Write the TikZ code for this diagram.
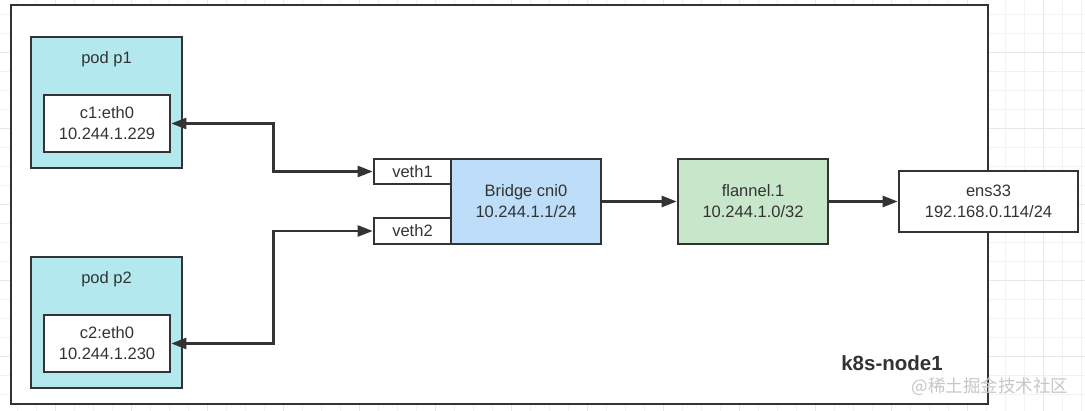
\documentclass[tikz,border=0pt]{standalone}
\usepackage{fontspec}
\setmainfont{Liberation Sans}
\newfontfamily\cjkfont{Noto Sans CJK SC}
\usetikzlibrary{arrows.meta}
\definecolor{podfill}{HTML}{B3E9EE}
\definecolor{brfill}{HTML}{BDDDF9}
\definecolor{flfill}{HTML}{C8E6CA}
\definecolor{edge}{HTML}{333333}
\tikzset{
  box/.style={draw=edge,line width=2.6pt,fill=white,inner sep=0pt,align=center,text=edge,
    font=\fontsize{16.5}{21}\selectfont},
  label text/.style={inner sep=0pt,text=edge,font=\fontsize{16.5}{21}\selectfont},
  link/.style={draw=edge,line width=2.4pt,-{Triangle[length=15pt,width=11pt]}},
  linkboth/.style={link,{Triangle[length=15pt,width=11pt]}-{Triangle[length=15pt,width=11pt]}},
  gridminor/.style={draw=black!5,line width=0.8pt},
  gridmajor/.style={draw=black!9,line width=0.8pt}
}
\begin{document}
\begin{tikzpicture}[x=1pt,y=-1pt]
\useasboundingbox (0,0) rectangle (1085,411);
% background grid
\foreach \gx in {17,36,...,1085} \draw[gridminor] (\gx,0) -- (\gx,411);
\foreach \gy in {14,33,...,411} \draw[gridminor] (0,\gy) -- (1085,\gy);
\foreach \gx in {55,131,...,1085} \draw[gridmajor] (\gx,0) -- (\gx,411);
\foreach \gy in {52,128,...,411} \draw[gridmajor] (0,\gy) -- (1085,\gy);
% host
\draw[draw=edge,line width=2pt,fill=white] (11,5) rectangle (988,404);
\node[text=edge,inner sep=0pt,font=\fontsize{20.5}{24}\selectfont\bfseries] (host) at (892,363) {k8s-node1};
\node[text=black!22,inner sep=0pt,font=\cjkfont\fontsize{17.5}{20}\selectfont] (mark) at (990,387) {@稀土掘金技术社区};
% pods
\node[box,fill=podfill,minimum width=151,minimum height=131] (p1) at (106.5,102.5) {};
\node[label text] (p1name) at (106.5,59) {pod p1};
\node[box,minimum width=126,minimum height=57] (c1) at (107,123.5) {c1:eth0\\10.244.1.229};
\node[box,fill=podfill,minimum width=151,minimum height=131] (p2) at (106.5,322.5) {};
\node[label text] (p2name) at (106.5,279) {pod p2};
\node[box,minimum width=126,minimum height=57] (c2) at (107,343.5) {c2:eth0\\10.244.1.230};
% bridge and veths
\node[box,fill=brfill,minimum width=150,minimum height=85] (cni0) at (526,201.5) {Bridge cni0\\10.244.1.1/24};
\node[box,minimum width=77,minimum height=25] (veth1) at (412.5,171.5) {veth1};
\node[box,minimum width=77,minimum height=26] (veth2) at (412.5,231) {veth2};
\node[box,fill=flfill,minimum width=150,minimum height=85] (flannel) at (753,201.5) {flannel.1\\10.244.1.0/32};
\node[box,minimum width=179,minimum height=61] (ens33) at (988.5,201.5) {ens33\\192.168.0.114/24};
% links
\draw[linkboth] (c1.east) -- ++(102,0) |- (veth1.west);
\draw[linkboth] (c2.east) -- ++(102,0) |- (veth2.west);
\draw[link] (cni0.east) -- (flannel.west);
\draw[link] (flannel.east) -- (ens33.west);
\end{tikzpicture}
\end{document}
